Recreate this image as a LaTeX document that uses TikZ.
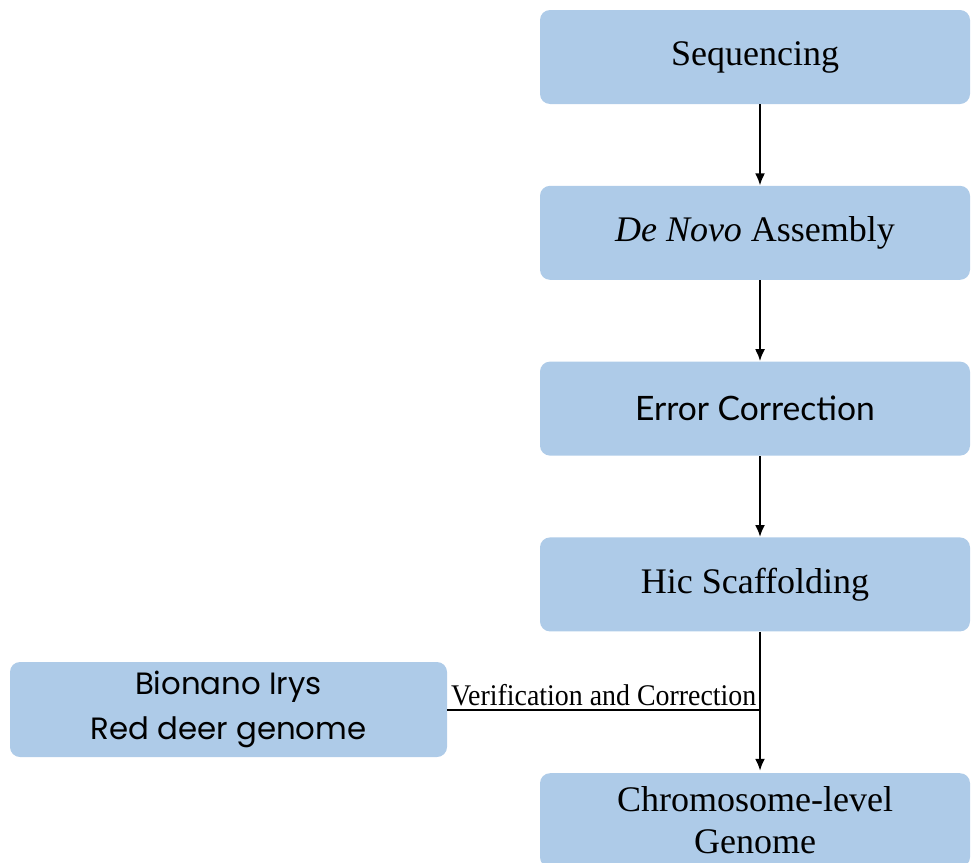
\documentclass[tikz,border=0pt]{standalone}
\usepackage{fontspec}
\setmainfont{Liberation Serif}
\newfontfamily\corrfont{Lato}
\newfontfamily\bionfont{Poppins}
\usepackage{tikz}
\usetikzlibrary{positioning,arrows.meta}

\definecolor{boxblue}{HTML}{AECBE8}

\begin{document}
\begin{tikzpicture}[
  font=\fontsize{18pt}{21pt}\selectfont,
  box/.style={fill=boxblue, rounded corners=5pt, align=center, minimum width=215pt, minimum height=47pt, inner sep=0pt},
  arr/.style={-{Latex[length=6pt,width=5pt]}, line width=1pt},
  lab/.style={font=\fontsize{15pt}{17pt}\selectfont, inner sep=1pt}
]
\useasboundingbox (0,0) rectangle (486.5pt,-431pt);
\node[box] (seq) at (377.5pt,-28.5pt) {Sequencing};
\node[box, below=40.5pt of seq] (asm) {\textit{De Novo} Assembly};
\node[box, below=40.5pt of asm] (err) {\corrfont\fontsize{16.8pt}{20pt}\selectfont Error Correction};
\node[box, below=40.5pt of err] (hic) {Hic Scaffolding};
\node[box, below=70.5pt of hic] (chr) {Chromosome-level\\Genome};
\node[box, minimum width=218.5pt, minimum height=47.5pt, font=\bionfont\fontsize{15.4pt}{22.5pt}\selectfont] (bio) at (114.25pt,-354.75pt) {Bionano Irys\\Red deer genome};
\coordinate (join) at ([xshift=2.5pt]hic.south |- bio.east);
\draw[arr] ([xshift=2.5pt]seq.south) -- ([xshift=2.5pt]asm.north);
\draw[arr] ([xshift=2.5pt]asm.south) -- ([xshift=2.5pt]err.north);
\draw[arr] ([xshift=2.5pt]err.south) -- ([xshift=2.5pt]hic.north);
\draw[arr] ([xshift=2.5pt]hic.south) -- ([xshift=2.5pt,yshift=1pt]chr.north);
\draw[line width=1pt] (bio.east) -- node[lab, above, yshift=0.5pt] {\scalebox{0.93}[1]{Verification and Correction}} (join);
\end{tikzpicture}
\end{document}
